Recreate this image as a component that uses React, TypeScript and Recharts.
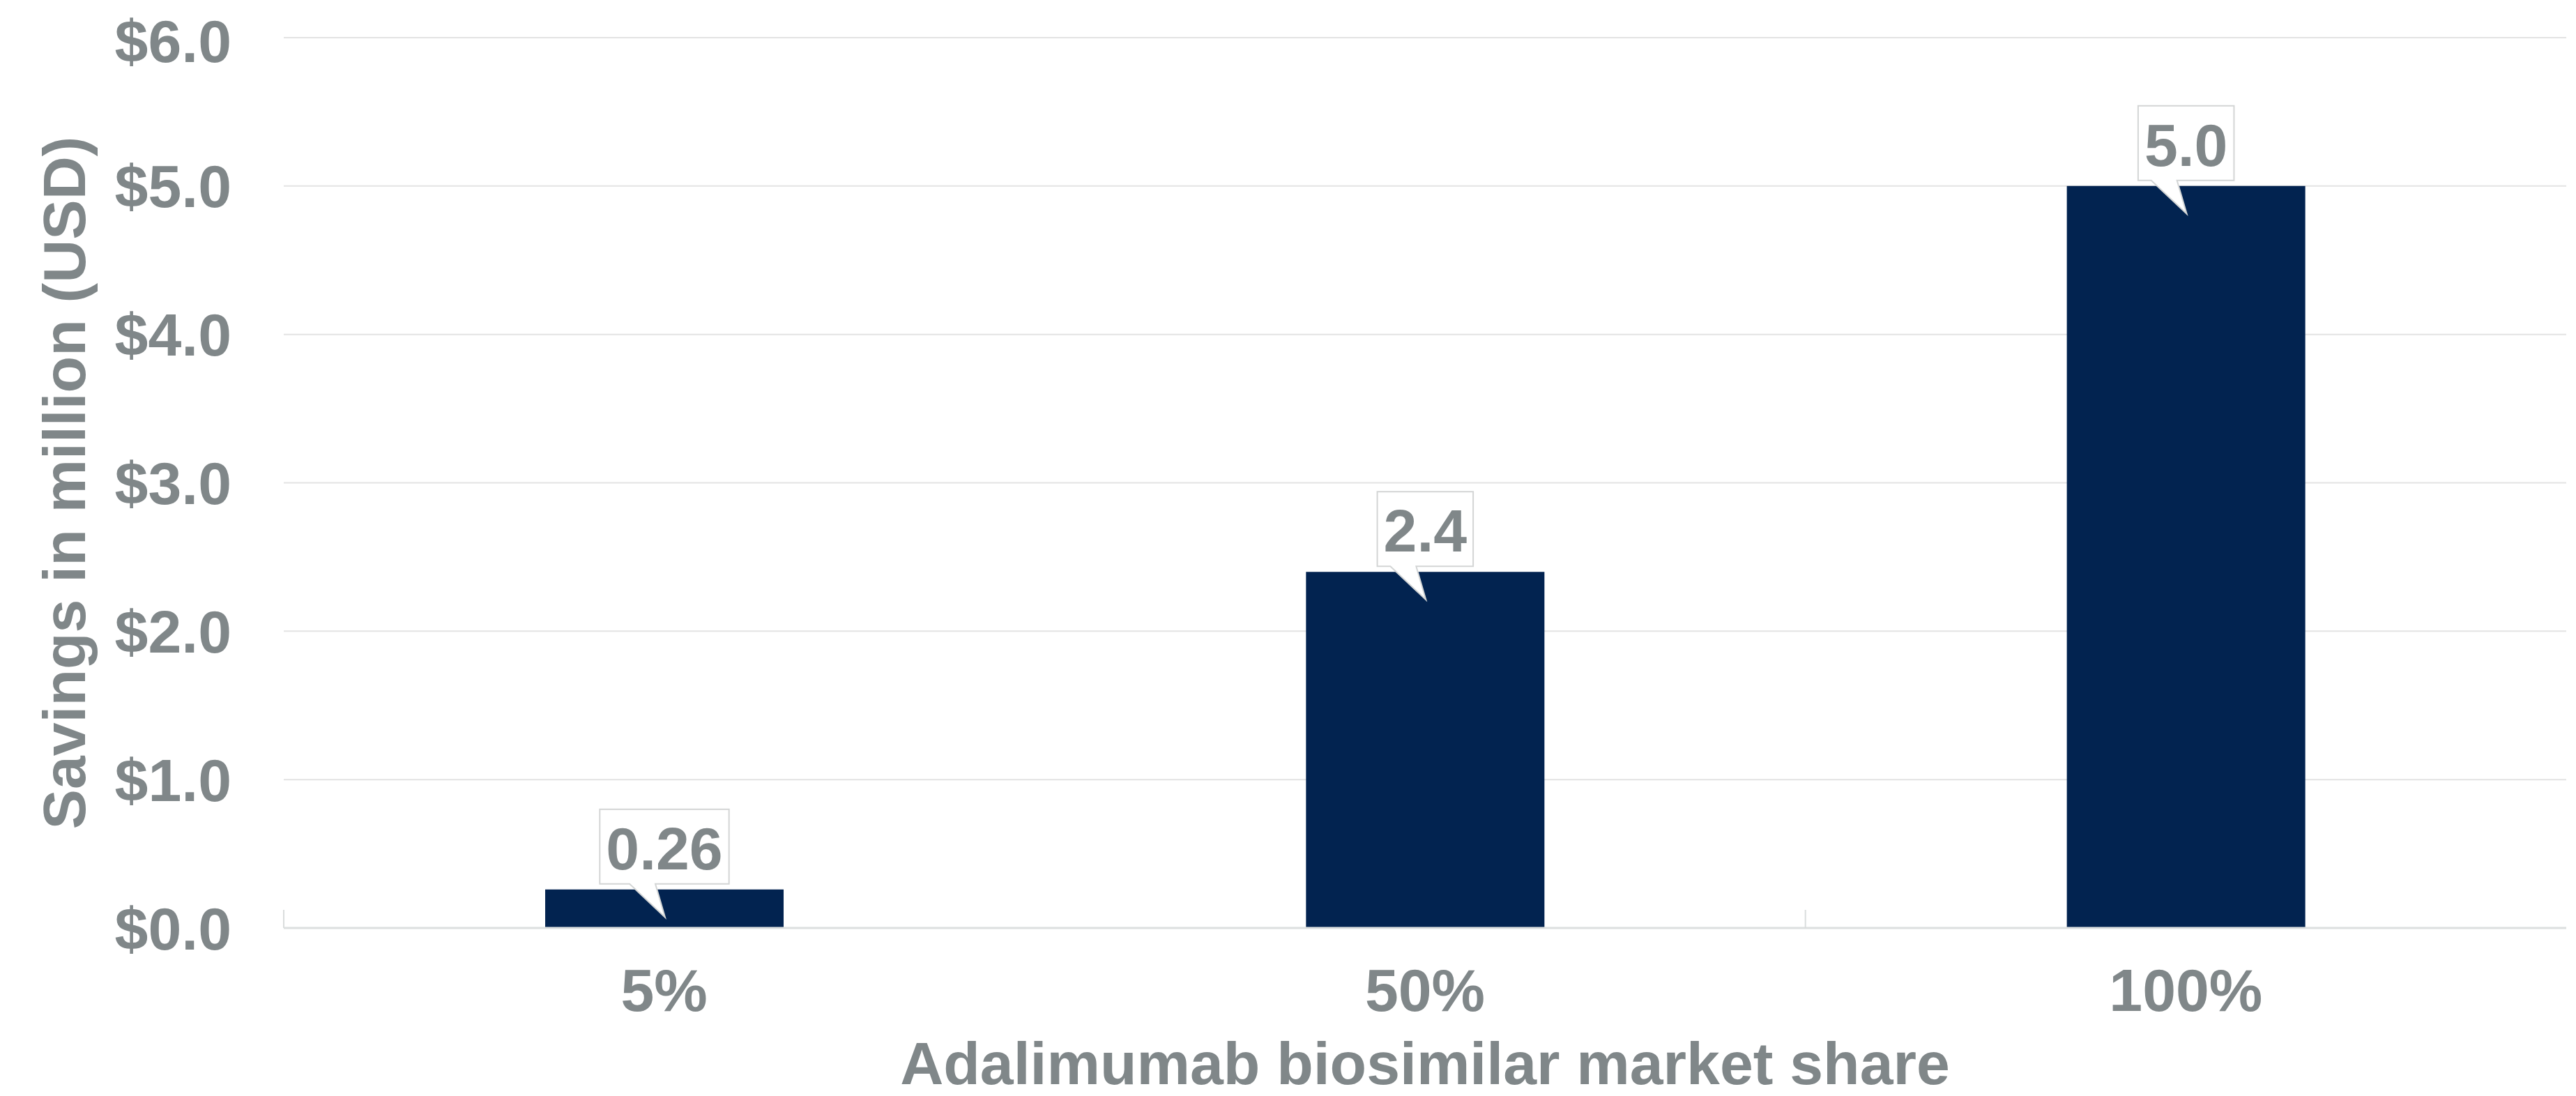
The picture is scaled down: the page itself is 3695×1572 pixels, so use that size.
import React from 'react';
import { BarChart, Bar, XAxis, YAxis, CartesianGrid, LabelList } from 'recharts';

const categories = ['5%', '50%', '100%'];
const savings = [0.26, 2.4, 5.0];
const savingsLabels = ['0.26', '2.4', '5.0'];
const yTicks = [0, 1, 2, 3, 4, 5, 6];
// categories that have a small boundary tick on their left edge
const edgeTickBefore = ['5%', '100%'];

const data = categories.map((c, i) => ({ share: c, savings: savings[i], label: savingsLabels[i] }));

const FONT = '"Liberation Sans", Arial, Helvetica, sans-serif';
const GREY = '#808789';
const NAVY = '#022350';
const FS = 86;

// rough Liberation Sans Bold widths for the callout box
const textWidth = (s: string) =>
  s.split('').reduce((w, ch) => w + (ch === '.' ? 0.278 : 0.556), 0) * FS;

const Callout = (props: any) => {
  const { x, y, width, value } = props;
  const cx = x + width / 2;
  const bottom = y - 8;
  const top = bottom - 107;
  const w = textWidth(String(value)) + 18;
  const left = cx - w / 2;
  const right = cx + w / 2;
  const d = `M${left},${top} H${right} V${bottom} H${cx - 13} L${cx + 1},${y + 40} L${cx - 50},${bottom} H${left} Z`;
  return (
    <g>
      <path d={d} fill="#ffffff" stroke="#D3D5D5" strokeWidth={2} />
      <text x={cx} y={bottom - 21} textAnchor="middle" fill={GREY} fontSize={FS} fontWeight={700} fontFamily={FONT}>
        {value}
      </text>
    </g>
  );
};

const XTick = (props: any) => {
  const { x, y, payload } = props;
  const half = payload && payload.offset ? payload.offset : 3274 / 6;
  return (
    <g>
      {edgeTickBefore.includes(payload.value) && (
        <line x1={x - half} x2={x - half} y1={y} y2={y - 26} stroke="#DADDDD" strokeWidth={2} />
      )}
      <text x={x} y={y + 119} textAnchor="middle" fill={GREY} fontSize={FS} fontWeight={700} fontFamily={FONT}>
        {payload.value}
      </text>
    </g>
  );
};

const YTitle = (props: any) => {
  const vb = props.viewBox || { x: 0, y: 46, width: 399, height: 1277 };
  const bx = vb.x + 114;
  const cy = vb.y + vb.height / 2;
  return (
    <text x={bx} y={cy} transform={`rotate(-90, ${bx}, ${cy})`} textAnchor="middle" fill={GREY} fontSize={FS} fontWeight={700} fontFamily={FONT}>
      Savings in million (USD)
    </text>
  );
};

const XTitle = (props: any) => {
  const vb = props.viewBox || { x: 399, y: 1323, width: 3274, height: 241 };
  return (
    <text x={vb.x + vb.width / 2} y={vb.y + 224} textAnchor="middle" fill={GREY} fontSize={FS} fontWeight={700} fontFamily={FONT}>
      Adalimumab biosimilar market share
    </text>
  );
};

export default function App() {
  return (
    <div style={{ width: 3687, height: 1564, background: '#ffffff' }}>
      <BarChart width={3687} height={1564} data={data} margin={{ top: 46, right: 14, left: 0, bottom: 0 }}>
        <CartesianGrid vertical={false} stroke="#E3E3E3" strokeWidth={2} />
        <XAxis
          dataKey="share"
          height={241}
          tickSize={0}
          tickMargin={0}
          axisLine={{ stroke: '#DCDFDF', strokeWidth: 3 }}
          tickLine={false}
          tick={<XTick />}
          interval={0}
          label={<XTitle />}
        />
        <YAxis
          width={399}
          domain={[0, 6]}
          ticks={yTicks}
          tickSize={0}
          tickMargin={75}
          axisLine={false}
          tickLine={false}
          tickFormatter={(v: number) => `$${v.toFixed(1)}`}
          tick={{ fill: GREY, fontSize: FS, fontWeight: 700, fontFamily: FONT }}
          label={<YTitle />}
        />
        <Bar dataKey="savings" fill={NAVY} barSize={342} isAnimationActive={false}>
          <LabelList dataKey="label" content={<Callout />} />
        </Bar>
      </BarChart>
    </div>
  );
}
